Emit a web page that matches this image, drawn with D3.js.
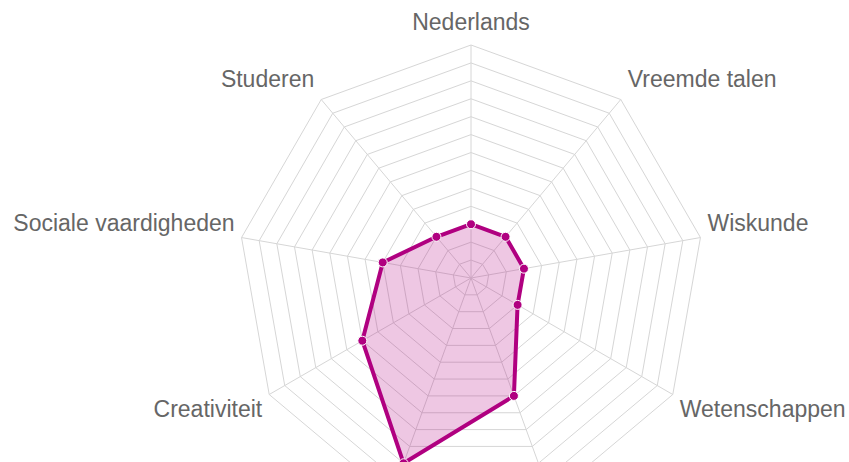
<!DOCTYPE html>
<html>
<head>
<meta charset="UTF-8">
<style>
body {margin:0; background:#fff;}
.grid {fill:none; stroke:#d6d6d6; stroke-width:1px;}
.spoke {stroke:#d6d6d6; stroke-width:1px;}
.label {font-family:"Liberation Sans", Arial, sans-serif; font-size:23px; fill:#666;}
.area {fill:rgba(176, 0, 128, .22); stroke:#b00080; stroke-width:4px; stroke-linejoin:round;}
.dot {fill:#b00080; stroke:#fff; stroke-width:1px;}
</style>
<script src="https://cdn.jsdelivr.net/npm/d3@7"></script>
<title>Radar</title>
</head>
<body>
<svg id="radar" width="849" height="462"></svg>
<script>
// categories, clockwise from top
var categories = ["Nederlands", "Vreemde talen", "Wiskunde", "Wetenschappen", "Bewegen", "Kunst", "Creativiteit", "Sociale vaardigheden", "Studeren"];
var scores = [3, 3, 3, 3, 7, 11, 7, 5, 3];
var levels = [1, 2, 3, 4, 5, 6, 7, 8, 9, 10, 11, 12, 13];

var cx = 471, cy = 278, R = 233;
var svg = d3.select("#radar");
var g = svg.append("g").attr("transform", "translate(" + cx + "," + cy + ")");

var angle = d3.scalePoint().domain(d3.range(categories.length + 1)).range([0, 2 * Math.PI]);
var r = d3.scaleLinear().domain([0, d3.max(levels)]).range([0, R]);

function pt(i, v) {
    var a = angle(i);
    return [r(v) * Math.sin(a), -r(v) * Math.cos(a)];
}

// web
g.selectAll(".grid").data(levels).enter().append("polygon")
    .attr("class", "grid")
    .attr("points", function(l) {
        return categories.map(function(c, i) { return pt(i, l).join(","); }).join(" ");
    });

g.selectAll(".spoke").data(categories).enter().append("line")
    .attr("class", "spoke")
    .attr("x1", 0).attr("y1", 0)
    .attr("x2", function(c, i) { return pt(i, d3.max(levels))[0]; })
    .attr("y2", function(c, i) { return pt(i, d3.max(levels))[1]; });

// series
var line = d3.lineRadial()
    .angle(function(d, i) { return angle(i); })
    .radius(function(d) { return r(d); })
    .curve(d3.curveLinearClosed);

g.append("path").datum(scores).attr("class", "area").attr("d", line);

g.selectAll(".dot").data(scores).enter().append("circle")
    .attr("class", "dot")
    .attr("r", 4.5)
    .attr("cx", function(d, i) { return pt(i, d)[0]; })
    .attr("cy", function(d, i) { return pt(i, d)[1]; });

// labels
g.selectAll(".label").data(categories).enter().append("text")
    .attr("class", "label")
    .attr("text-anchor", function(c, i) {
        var s = Math.sin(angle(i));
        return s > 0.1 ? "start" : (s < -0.1 ? "end" : "middle");
    })
    .attr("x", function(c, i) {
        var s = Math.sin(angle(i));
        var p = pt(i, d3.max(levels));
        return p[0] + (s > 0.1 ? 7 : (s < -0.1 ? -7 : 0));
    })
    .attr("y", function(c, i) {
        var co = Math.cos(angle(i));
        var p = pt(i, d3.max(levels));
        return p[1] + (co >= 0 ? (-5 - 10 * co) : (15 - 15 * co));
    })
    .text(function(c) { return c; });
</script>
</body>
</html>
